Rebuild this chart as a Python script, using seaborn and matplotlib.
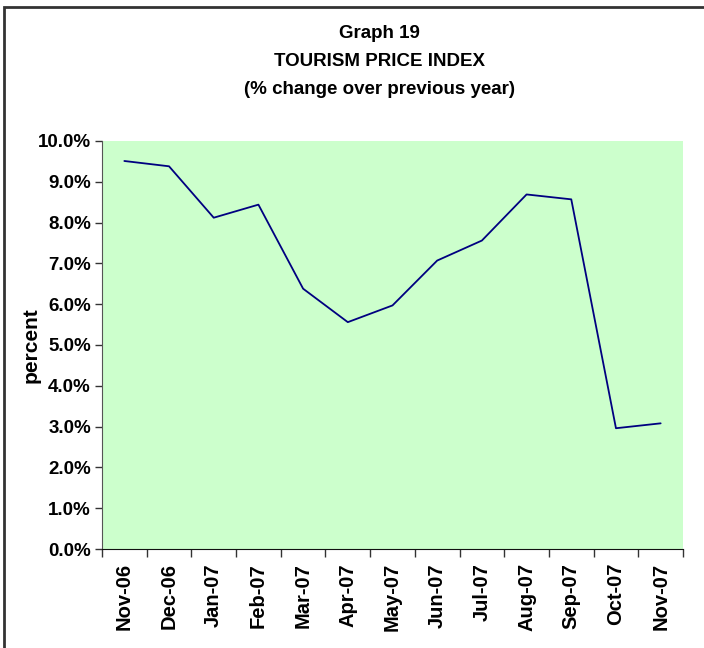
import numpy as np
import pandas as pd
import matplotlib
matplotlib.use("Agg")
import matplotlib.pyplot as plt
from matplotlib.patches import Rectangle
from matplotlib.ticker import FixedLocator, PercentFormatter
import seaborn as sns

months = ["Nov-06", "Dec-06", "Jan-07", "Feb-07", "Mar-07", "Apr-07", "May-07",
          "Jun-07", "Jul-07", "Aug-07", "Sep-07", "Oct-07", "Nov-07"]
pct_change = [9.51, 9.38, 8.12, 8.44, 6.38, 5.56, 5.97, 7.07, 7.56, 8.69, 8.57, 2.96, 3.08]
y_ticks = [0, 1, 2, 3, 4, 5, 6, 7, 8, 9, 10]

sns.set_style("white")
plt.rcParams["font.family"] = ["Liberation Sans", "DejaVu Sans"]
plt.rcParams["font.weight"] = "bold"
plt.rcParams["text.color"] = "black"
plt.rcParams["xtick.color"] = "black"
plt.rcParams["ytick.color"] = "black"
plt.rcParams["axes.labelcolor"] = "black"

df = pd.DataFrame({"month": months, "value": pct_change})

fig = plt.figure(figsize=(7.04, 6.48), dpi=100)
ax = fig.add_axes([102 / 704, 1 - 549 / 648, 581 / 704, 408 / 648])
ax.set_facecolor("#CCFFCC")

sns.lineplot(data=df, x="month", y="value", ax=ax, color="#000080", linewidth=1.3, sort=False)

ax.set_xlim(-0.5, len(months) - 0.5)
ax.set_ylim(0, 10)
ax.set_yticks(y_ticks)
ax.yaxis.set_major_formatter(PercentFormatter(decimals=1))
ax.set_xticks(range(len(months)))
ax.set_xticklabels(months, rotation=90, fontsize=14.5, fontweight="bold")
ax.xaxis.set_minor_locator(FixedLocator(np.arange(-0.5, len(months), 1)))
ax.tick_params(axis="x", which="major", bottom=True, length=0, pad=10)
ax.tick_params(axis="x", which="minor", bottom=True, length=6, width=1, color="#333333", direction="out")
ax.tick_params(axis="y", which="major", left=True, length=5, width=1, color="#333333", direction="out",
               labelsize=13.5, pad=3)
for lbl in ax.get_yticklabels():
    lbl.set_fontweight("bold")

for side in ["top", "right"]:
    ax.spines[side].set_visible(False)
ax.spines["left"].set_color("#555555")
ax.spines["bottom"].set_color("#111111")

ax.set_xlabel("")
ax.set_ylabel("percent", fontsize=15, fontweight="bold")
ax.yaxis.set_label_coords(-0.105, 0.5)

fig.text(379 / 704, 1 - 33 / 648, "Graph 19", ha="center", va="center", fontsize=13.5, fontweight="bold")
fig.text(379 / 704, 1 - 61 / 648, "TOURISM PRICE INDEX", ha="center", va="center", fontsize=13.5, fontweight="bold")
fig.text(379 / 704, 1 - 90 / 648, "(% change over previous year)", ha="center", va="center", fontsize=13.5, fontweight="bold")

frame = Rectangle((4 / 704, -0.1), 1.0, 1 - 7 / 648 + 0.1, transform=fig.transFigure,
                  fill=False, edgecolor="#333333", linewidth=2)
fig.add_artist(frame)

fig.savefig("out.png", dpi=100)
